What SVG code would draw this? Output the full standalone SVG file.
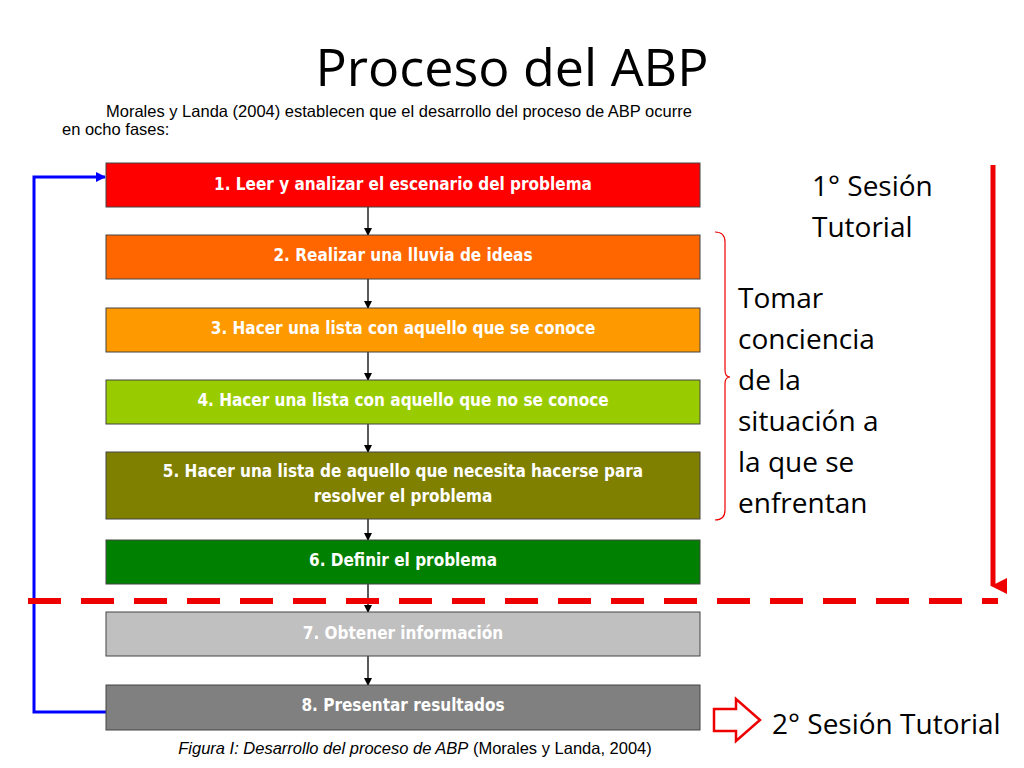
<svg xmlns="http://www.w3.org/2000/svg" width="1024" height="768" viewBox="0 0 1024 768">
<style>
.b{stroke:#444;stroke-width:1}
.t{font-family:"DejaVu Sans Condensed","DejaVu Sans",sans-serif;font-weight:bold;font-size:17px;fill:#fff;text-anchor:middle}
.c{font-family:"Open Sans","Liberation Sans",sans-serif;font-size:28px;fill:#000}
.a{stroke:#000;stroke-width:1.3;fill:none;marker-end:url(#ah)}
</style>
<defs>
<marker id="ah" markerWidth="8" markerHeight="8" refX="7" refY="4" orient="auto" markerUnits="userSpaceOnUse"><path d="M0,0L8,4L0,8z" fill="#000"/></marker>
<marker id="bh" markerWidth="10" markerHeight="10" refX="9" refY="5" orient="auto" markerUnits="userSpaceOnUse"><path d="M0,0L10,5L0,10z" fill="#0000ff"/></marker>
<marker id="rh" markerWidth="16" markerHeight="16" refX="8" refY="14" orient="auto" markerUnits="userSpaceOnUse"><path d="M0,0L16,0L8,16z" fill="#e00"/></marker>
</defs>
<rect width="1024" height="768" fill="#fff"/>
<text x="512" y="86" font-family="Open Sans, Liberation Sans, sans-serif" font-size="52" text-anchor="middle">Proceso del ABP</text>
<text font-family="Liberation Sans, Arial, sans-serif" font-size="16.5" fill="#000"><tspan x="106" y="117">Morales y Landa (2004) establecen que el desarrollo del proceso de ABP ocurre</tspan><tspan x="62" y="135">en ocho fases:</tspan></text>
<g id="connectors">
<path class="a" d="M368,207V235"/><path class="a" d="M368,279V308"/><path class="a" d="M368,352V380"/><path class="a" d="M368,424V452"/><path class="a" d="M368,519V540"/><path class="a" d="M368,584V612"/><path class="a" d="M368,656V685"/>
<path d="M106,712H34V177H105" stroke="#0000ff" stroke-width="3" fill="none" marker-end="url(#bh)"/>
<path d="M28,601H998" stroke="#e00" stroke-width="6" stroke-dasharray="33,20"/>
<path d="M993,165V586" stroke="#e00" stroke-width="5" marker-end="url(#rh)"/>
<path d="M715,232Q725,232 725,242V370Q725,377 730,377Q725,377 725,384V510Q725,520 715,520" stroke="#e00" stroke-width="1.2" fill="none"/>
<path d="M714,709H736V699L760,720L736,741V731H714z" fill="#fff" stroke="#e00" stroke-width="2.5"/>
</g>
<g id="n1"><rect class="b" x="106" y="163" width="594" height="44" fill="#ff0000"/><text class="t" x="403" y="190">1. Leer y analizar el escenario del problema</text></g>
<g id="n2"><rect class="b" x="106" y="235" width="594" height="44" fill="#ff6600"/><text class="t" x="403" y="261">2. Realizar una lluvia de ideas</text></g>
<g id="n3"><rect class="b" x="106" y="308" width="594" height="44" fill="#ff9900"/><text class="t" x="403" y="334">3. Hacer una lista con aquello que se conoce</text></g>
<g id="n4"><rect class="b" x="106" y="380" width="594" height="44" fill="#99cc00"/><text class="t" x="403" y="406">4. Hacer una lista con aquello que no se conoce</text></g>
<g id="n5"><rect class="b" x="106" y="452" width="594" height="67" fill="#808000"/><text class="t" x="403" y="477">5. Hacer una lista de aquello que necesita hacerse para</text><text class="t" x="403" y="502">resolver el problema</text></g>
<g id="n6"><rect class="b" x="106" y="540" width="594" height="44" fill="#008000"/><text class="t" x="403" y="566">6. Definir el problema</text></g>
<g id="n7"><rect class="b" x="106" y="612" width="594" height="44" fill="#c0c0c0"/><text class="t" x="403" y="639">7. Obtener información</text></g>
<g id="n8"><rect class="b" x="106" y="685" width="594" height="45" fill="#808080"/><text class="t" x="403" y="711">8. Presentar resultados</text></g>
<text x="415" y="754" font-family="Liberation Sans, Arial, sans-serif" font-size="16.5" text-anchor="middle"><tspan font-style="italic">Figura I: Desarrollo del proceso de ABP</tspan> (Morales y Landa, 2004)</text>
<text class="c"><tspan x="812" y="196">1° Sesión</tspan><tspan x="812" y="237">Tutorial</tspan></text>
<text class="c"><tspan x="738" y="308">Tomar</tspan><tspan x="738" y="349">conciencia</tspan><tspan x="738" y="390">de la</tspan><tspan x="738" y="431">situación a</tspan><tspan x="738" y="472">la que se</tspan><tspan x="738" y="513">enfrentan</tspan></text>
<text class="c" x="772" y="734">2° Sesión Tutorial</text>
</svg>
